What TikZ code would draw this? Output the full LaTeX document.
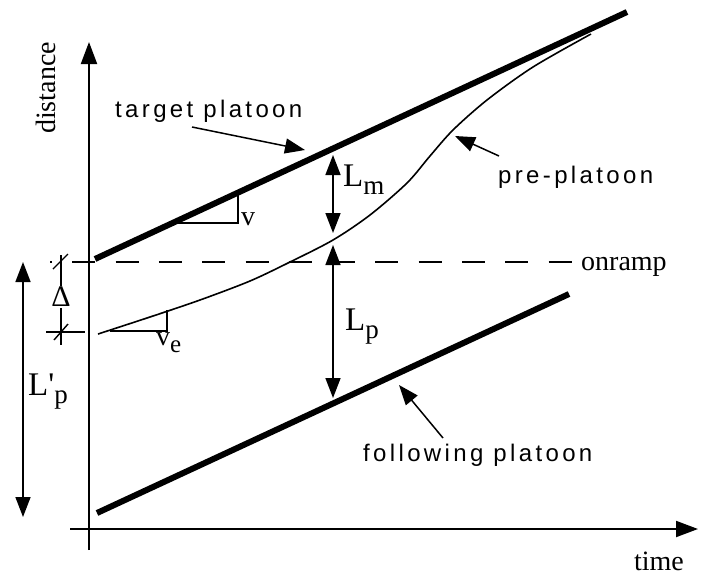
\documentclass[tikz,border=0pt]{standalone}
\usepackage{fontspec}
\setmainfont{Liberation Serif}
\newfontfamily\lblfont[LetterSpace=14]{Liberation Sans}
\usetikzlibrary{arrows.meta}
\tikzset{
  axisline/.style={line width=2pt,-{Triangle[length=22pt,width=16pt]}},
  platoonline/.style={line width=6pt},
  curveline/.style={line width=1.6pt},
  thinline/.style={line width=1.4pt},
  dimarrow/.style={line width=1.6pt,{Triangle[length=20pt,width=15pt]}-{Triangle[length=20pt,width=15pt]}},
  pointer/.style={line width=1.5pt,-{Triangle[length=20pt,width=15pt]}},
  sanslabel/.style={inner sep=0pt,font=\lblfont\fontsize{24}{28}\selectfont},
  seriflabel/.style={inner sep=0pt,font=\fontsize{28}{32}\selectfont},
  biglabel/.style={inner sep=0pt,font=\fontsize{33}{37}\selectfont},
}
\newcommand{\subsc}[1]{\raisebox{-0.26em}{\fontsize{27}{30}\selectfont #1}}
\newcommand{\subsv}[1]{\raisebox{-0.26em}{\fontsize{25}{28}\selectfont #1}}
\begin{document}
\begin{tikzpicture}[x=1pt,y=-1pt,line cap=butt]
\useasboundingbox (0,0) rectangle (701,582);
% axes
\coordinate (yb) at (89,550);
\coordinate (yt) at (89,42);
\coordinate (xl) at (70,529);
\coordinate (xr) at (698,529);
\draw[axisline] (yb) -- (yt);
\draw[axisline] (xl) -- (xr);
\node[seriflabel,rotate=90] (dist) at (46,88) {distance};
\node[seriflabel] (time) at (659,561) {time};
% platoon lines
\coordinate (t0) at (95,259);
\coordinate (t1) at (627,12);
\draw[platoonline] (t0) -- (t1);
\coordinate (f0) at (97,513);
\coordinate (f1) at (569,294);
\draw[platoonline] (f0) -- (f1);
% pre-platoon curve
\draw[curveline] plot[smooth,tension=0.5] coordinates {(98,334) (150,317) (200,300) (250,281) (290,262) (333,240) (370,215) (407,183) (430,156) (453,130) (487,100) (533,67) (591,34)};
% onramp dashed line
\coordinate (d0) at (50,262);
\coordinate (d1) at (573,262);
\draw[line width=1.7pt,dash pattern=on 23pt off 20.3pt,dash phase=21pt] (d0) -- (d1);
\node[seriflabel,anchor=base west] (onramp) at (581,270) {onramp};
% slope triangles
\coordinate (va) at (175,223);
\coordinate (vb) at (238,223);
\coordinate (vc) at (238,193);
\draw[thinline] (va) -- (vb) -- (vc);
\node[seriflabel,anchor=base west] (v) at (241,225) {v};
\coordinate (wa) at (110,331);
\coordinate (wb) at (167,331);
\coordinate (wc) at (167,310);
\draw[thinline] (wa) -- (wb) -- (wc);
\node[seriflabel,anchor=base west] (ve) at (156,345) {v\subsv{e}};
% Delta dimension
\coordinate (da) at (61,255);
\coordinate (db) at (61,345);
\node[inner sep=1pt,font=\fontsize{30}{34}\selectfont] (delta) at (61,297) {Δ};
\draw[thinline] (da) -- (delta.north);
\draw[thinline] (delta.south) -- (db);
\coordinate (e0) at (46,332);
\coordinate (e1) at (85,332);
\draw[thinline] (e0) -- (e1);
\draw[thinline] (53,269) -- (68,254);
\draw[thinline] (54,340) -- (68,324);
% dimension arrows
\coordinate (lm0) at (333,155);
\coordinate (lm1) at (333,233);
\draw[dimarrow] (lm0) -- (lm1);
\node[biglabel,anchor=base west] (Lm) at (343,186) {L\subsc{m}};
\coordinate (lp0) at (333,245);
\coordinate (lp1) at (333,398);
\draw[dimarrow] (lp0) -- (lp1);
\node[biglabel,anchor=base west] (Lp) at (345,330) {L\subsc{p}};
\coordinate (lq0) at (23,262);
\coordinate (lq1) at (23,517);
\draw[dimarrow] (lq0) -- (lq1);
\node[biglabel,anchor=base west] (Lpp) at (28,395) {L\textquotesingle\subsc{p}};
% pointer labels
\node[sanslabel,anchor=base west] (tp) at (115,117) {target platoon};
\coordinate (tpa) at (192,127);
\coordinate (tpb) at (305,150);
\draw[pointer] (tpa) -- (tpb);
\node[sanslabel,anchor=base west] (pp) at (498,183) {pre-platoon};
\coordinate (ppa) at (499,156);
\coordinate (ppb) at (455,136);
\draw[pointer] (ppa) -- (ppb);
\node[sanslabel,anchor=base west] (fp) at (363,461) {following platoon};
\coordinate (fpa) at (443,438);
\coordinate (fpb) at (399,385);
\draw[pointer] (fpa) -- (fpb);
\end{tikzpicture}
\end{document}
